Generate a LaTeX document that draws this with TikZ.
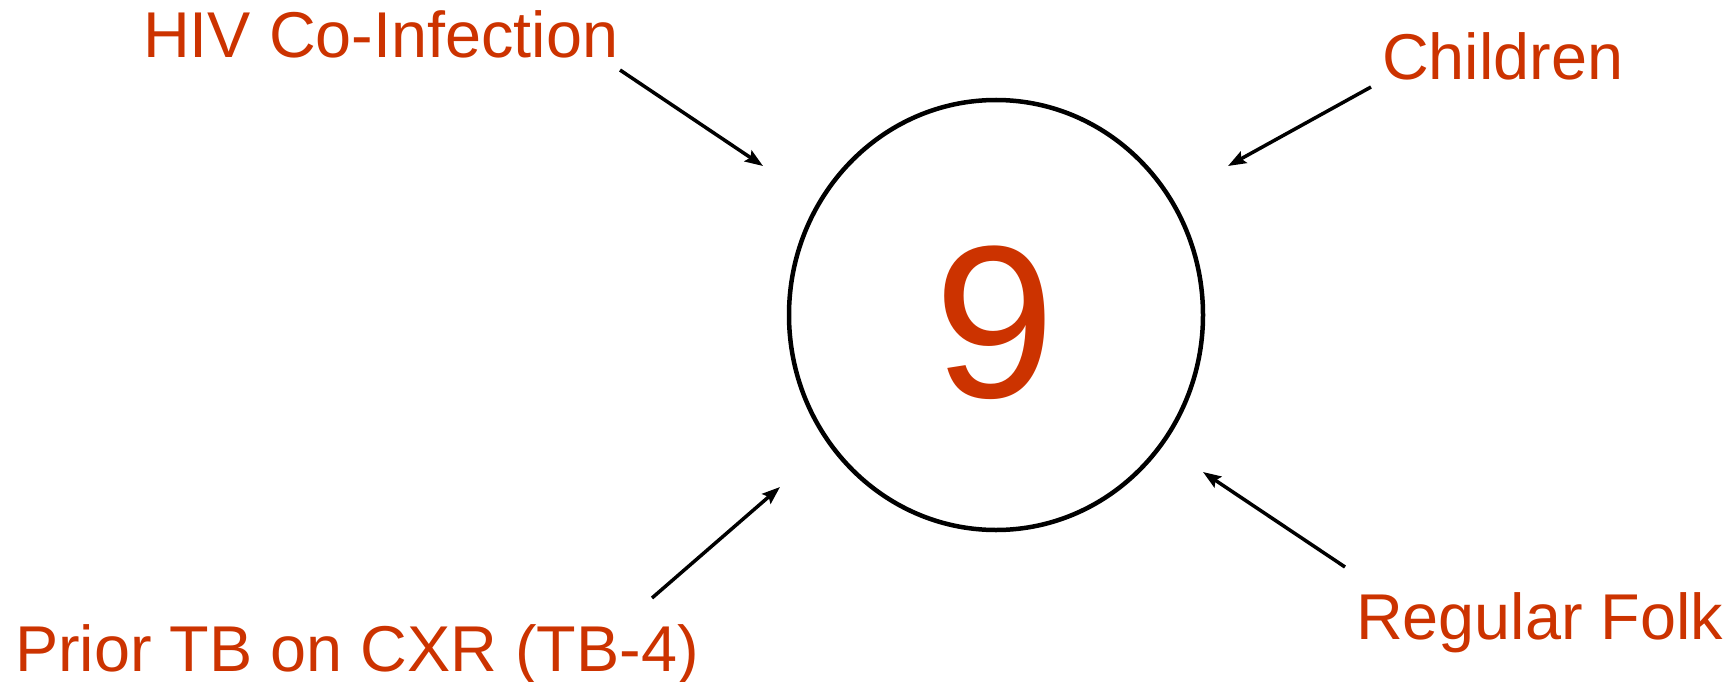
\documentclass[tikz,border=0pt]{standalone}
\usepackage{fontspec}
\setmainfont{Liberation Sans}
\usetikzlibrary{arrows.meta,shapes.geometric}
\definecolor{lblred}{HTML}{CC3300}
\tikzset{
  lbl/.style={text=lblred, inner sep=0pt, font=\fontsize{65}{72}\selectfont},
  arr/.style={line width=3.5bp, -{Stealth[length=18bp,width=13bp,inset=3bp]}},
}
\begin{document}
\begin{tikzpicture}[x=1bp,y=-1bp]
\useasboundingbox (0,0) rectangle (1733,682);
\node[draw, ellipse, line width=4.5bp, minimum width=414bp, minimum height=430bp, inner sep=0pt] (circ) at (996,315) {};
\node[text=lblred, inner sep=0pt, anchor=base, font=\fontsize{218}{230}\selectfont] (nine) at (995,397) {9};
\node[lbl, anchor=base west] (hiv) at (143,58) {HIV Co-Infection};
\node[lbl, anchor=base west] (child) at (1382,80) {Children};
\node[lbl, anchor=base west] (prior) at (15,671) {Prior TB on CXR (TB-4)};
\node[lbl, anchor=base west] (folk) at (1356,639) {Regular Folk};
\coordinate (hivs) at (620,70);
\coordinate (hive) at (763,166);
\coordinate (childs) at (1371,87);
\coordinate (childe) at (1228,166);
\coordinate (priors) at (652,598);
\coordinate (priore) at (780,487);
\coordinate (folks) at (1345,567);
\coordinate (folke) at (1203,472);
\draw[arr] (hivs) -- (hive);
\draw[arr] (childs) -- (childe);
\draw[arr] (priors) -- (priore);
\draw[arr] (folks) -- (folke);
\end{tikzpicture}
\end{document}
